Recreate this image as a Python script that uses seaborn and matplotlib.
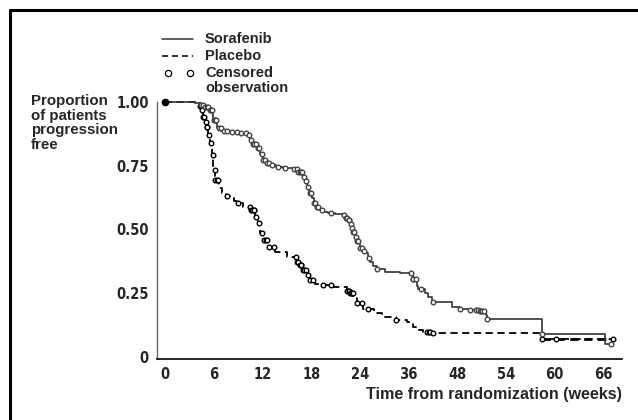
import numpy as np
import pandas as pd
import matplotlib
matplotlib.use("Agg")
import matplotlib.pyplot as plt
from matplotlib.lines import Line2D
import seaborn as sns

# step curves (time in axis units, proportion progression free)
sor_t = [0, 3.7, 4.3, 4.9, 5.5, 5.9, 6.4, 7.0, 8.0, 9.2, 10.1, 10.5, 10.8, 11.3, 11.7, 12.1, 12.6, 12.9,
         13.7, 14.5, 15.8, 16.4, 17.0, 17.2, 17.5, 17.7, 18.1, 18.3, 18.7, 19.1, 19.5, 20.1, 20.9, 21.9,
         22.3, 22.5, 22.8, 23.0, 23.1, 23.4, 23.6, 24.0, 24.3, 24.6, 25.0, 25.2, 25.6, 26.1, 27.1, 28.9,
         30.4, 30.5, 31.0, 31.2, 32.0, 32.4, 32.9, 35.4, 36.3, 37.6, 38.8, 39.6, 39.7, 46.4, 54.2, 54.9]
sor_s = [1.0, 0.995, 0.99, 0.98, 0.969, 0.93, 0.897, 0.888, 0.884, 0.879, 0.871, 0.851, 0.835, 0.818,
         0.795, 0.773, 0.76, 0.753, 0.745, 0.741, 0.737, 0.725, 0.707, 0.69, 0.668, 0.645, 0.622, 0.605,
         0.589, 0.578, 0.57, 0.565, 0.562, 0.557, 0.545, 0.537, 0.52, 0.505, 0.49, 0.472, 0.455, 0.426,
         0.415, 0.408, 0.39, 0.374, 0.355, 0.345, 0.335, 0.328, 0.32, 0.305, 0.28, 0.265, 0.25, 0.235,
         0.215, 0.195, 0.19, 0.186, 0.18, 0.165, 0.148, 0.092, 0.051, 0.051]

pla_t = [0, 3.7, 4.3, 4.5, 4.7, 4.9, 5.1, 5.3, 5.5, 5.75, 5.95, 6.2, 6.6, 7.0, 7.5, 8.0, 8.5, 9.0, 9.6,
         10.5, 11.1, 11.5, 11.7, 12.1, 12.7, 13.5, 15.0, 16.2, 16.6, 17.0, 17.5, 17.9, 18.5, 19.5, 20.7,
         22.4, 22.8, 23.2, 23.6, 24.4, 25.7, 26.7, 28.5, 29.8, 30.6, 31.0, 31.8, 33.0, 46.4, 55.2]
pla_s = [1.0, 0.995, 0.985, 0.969, 0.942, 0.92, 0.903, 0.87, 0.838, 0.792, 0.733, 0.694, 0.661, 0.642,
         0.63, 0.622, 0.612, 0.603, 0.589, 0.576, 0.55, 0.524, 0.485, 0.459, 0.433, 0.413, 0.393, 0.374,
         0.36, 0.341, 0.32, 0.302, 0.286, 0.282, 0.273, 0.26, 0.25, 0.236, 0.21, 0.187, 0.171, 0.156,
         0.145, 0.138, 0.119, 0.106, 0.097, 0.093, 0.07, 0.07]

# censored observation times
sor_cens = [4.4, 4.7, 4.9, 5.1, 5.3, 5.5, 5.7, 5.8, 6.0, 6.1, 6.3, 6.6, 6.9, 7.2, 7.6, 8.3, 8.8, 9.4,
            10.0, 10.3, 10.6, 10.8, 11.0, 11.2, 11.4, 11.6, 11.9, 12.1, 12.3, 12.6, 12.8, 13.2, 13.9,
            14.8, 15.9, 16.2, 16.4, 16.6, 16.8, 16.9, 17.1, 17.3, 17.6, 17.8, 18.0, 18.3, 18.5, 18.7,
            18.9, 19.3, 20.4, 22.1, 22.3, 22.4, 22.6, 22.7, 22.9, 23.0, 23.2, 23.3, 23.5, 23.7, 23.8,
            24.0, 24.2, 24.5, 25.1, 26.1, 30.3, 30.5, 30.6, 30.9, 31.5, 33.0, 36.3, 37.6, 38.3, 38.6,
            38.8, 38.9, 39.1, 39.3, 39.7, 46.4, 54.9]
pla_cens = [4.3, 4.4, 4.6, 4.7, 4.8, 5.0, 5.1, 5.2, 5.4, 5.6, 5.9, 6.1, 6.2, 6.4, 6.5, 7.6, 9.0, 10.4,
            10.6, 10.7, 10.9, 11.0, 11.2, 11.6, 12.0, 12.2, 12.4, 12.6, 12.8, 13.4, 16.1, 16.3, 16.4,
            16.6, 16.7, 16.8, 17.0, 17.1, 17.3, 17.6, 17.9, 18.2, 19.5, 20.5, 22.4, 22.6, 22.7, 22.8,
            22.9, 23.0, 23.1, 23.6, 24.3, 25.0, 28.5, 32.3, 32.5, 32.7, 33.0, 46.4, 48.2, 55.2]

tick_pos = [0, 6, 12, 18, 24, 30, 36, 42, 48, 54]
tick_lab = ["0", "6", "12", "18", "24", "36", "48", "54", "60", "66"]
y_ticks = [0, 0.25, 0.5, 0.75, 1.0]
y_lab = ["0", "0.25", "0.50", "0.75", "1.00"]


def censor_y(t, s, c):
    idx = np.searchsorted(t, c, side="right") - 1
    return np.asarray(s)[idx]


sor = pd.DataFrame({"t": sor_t, "s": sor_s})
pla = pd.DataFrame({"t": pla_t, "s": pla_s})
sor_c = pd.DataFrame({"t": sor_cens, "s": censor_y(sor_t, sor_s, sor_cens)})
pla_c = pd.DataFrame({"t": pla_cens, "s": censor_y(pla_t, pla_s, pla_cens)})

sns.set_style("white")
plt.rcParams["font.family"] = ["Liberation Sans", "DejaVu Sans"]

fig = plt.figure(figsize=(6.38, 4.2), dpi=100)
ax = fig.add_axes([157/638, 1-359/420, (622-157)/638, (359-102)/420])

sns.lineplot(data=pla, x="t", y="s", drawstyle="steps-post", color="black", lw=1.3,
             linestyle=(0, (4, 2.5)), ax=ax, clip_on=False)
tail = pla[pla["t"] >= 46.4]
sns.lineplot(data=tail, x="t", y="s", drawstyle="steps-post", color="black", lw=2.0,
             linestyle=(0, (3, 2)), ax=ax, clip_on=False)
sns.lineplot(data=sor, x="t", y="s", drawstyle="steps-post", color="#333333", lw=1.2,
             ax=ax, clip_on=False)
sns.scatterplot(data=pla_c, x="t", y="s", marker="o", s=11, facecolor="white",
                edgecolor="black", linewidth=1.0, ax=ax, clip_on=False, zorder=3)
sns.scatterplot(data=sor_c, x="t", y="s", marker="o", s=11, facecolor="white",
                edgecolor="#444444", linewidth=1.0, ax=ax, clip_on=False, zorder=3)
ax.plot([0], [1.0], "o", color="black", ms=4.5, clip_on=False, zorder=4)

ax.set_xlim(-1.0, 56.3)
ax.set_ylim(-0.008, 1.0)
ax.set_xticks(tick_pos)
ax.set_xticklabels(tick_lab)
ax.set_yticks(y_ticks)
ax.set_yticklabels(y_lab)
ax.set_xlabel("")
ax.set_ylabel("")
for sp in ["top", "right"]:
    ax.spines[sp].set_visible(False)
ax.spines["left"].set_color("#666666")
ax.spines["bottom"].set_color("black")
ax.spines["left"].set_linewidth(1.0)
ax.spines["bottom"].set_linewidth(1.2)
ax.tick_params(axis="both", length=4, width=0.8, color="#666666", direction="out", pad=2,
               labelsize=10.5)
for lab in ax.get_xticklabels() + ax.get_yticklabels():
    lab.set_fontweight("bold")
    lab.set_family(["DejaVu Sans"])
    lab.set_fontstretch("condensed")

fig.text(31/638, 1-94/420, "Proportion\nof patients\nprogression\nfree", ha="left", va="top",
         fontsize=10.8, fontweight="bold", linespacing=1.05)
fig.text(622/638, 1-395/420, "Time from randomization (weeks)", ha="right", va="center",
         fontsize=11.6, fontweight="bold")

# legend
fig.add_artist(Line2D([162/638, 193/638], [1-39/420]*2, color="#333333", lw=1.1))
fig.add_artist(Line2D([162/638, 193/638], [1-56/420]*2, color="black", lw=1.1,
                      linestyle=(0, (4, 2.5))))
fig.add_artist(Line2D([168/638, 190/638], [1-73/420]*2, ls="none", marker="o", ms=4.5,
                      mfc="white", mec="black", mew=0.9))
fig.text(205/638, 1-39/420, "Sorafenib", ha="left", va="center", fontsize=10.5, fontweight="bold")
fig.text(205/638, 1-56/420, "Placebo", ha="left", va="center", fontsize=10.5, fontweight="bold")
fig.text(205/638, 1-66/420, "Censored\nobservation", ha="left", va="top", fontsize=10.5,
         fontweight="bold", linespacing=1.1)

# outer frame (top and left edges)
fig.add_artist(Line2D([10/638, 1.0], [1-10/420]*2, color="black", lw=2.2))
fig.add_artist(Line2D([10/638]*2, [0.0, 1-10/420], color="black", lw=2.2))

fig.savefig("out.png", dpi=100)
